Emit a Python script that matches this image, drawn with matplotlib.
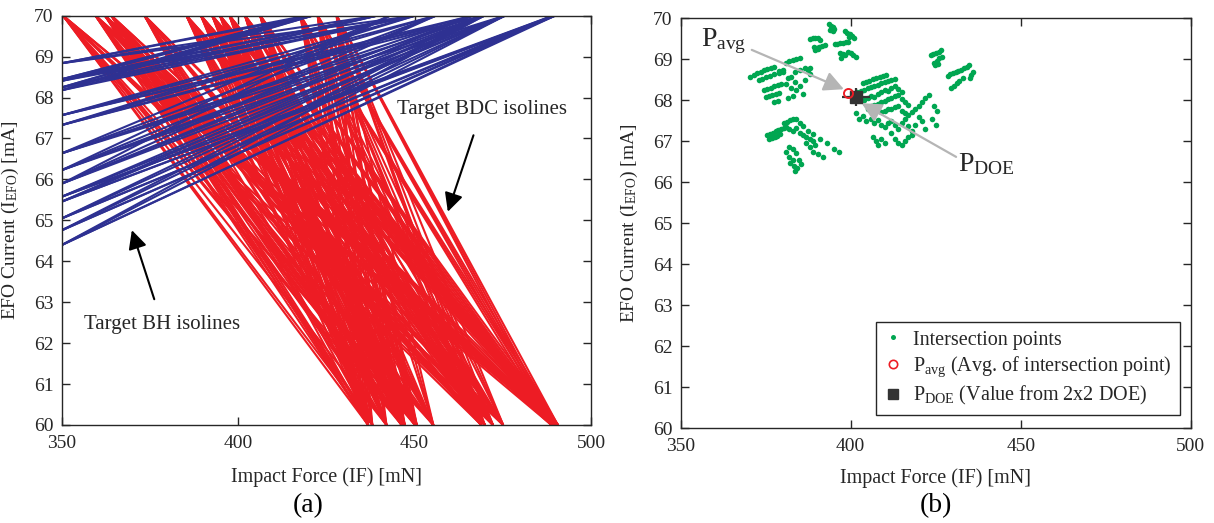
import matplotlib
matplotlib.use("Agg")
import matplotlib.pyplot as plt
from matplotlib.lines import Line2D

plt.rcParams['font.family'] = ['Liberation Serif', 'DejaVu Serif']
plt.rcParams['mathtext.fontset'] = 'custom'
plt.rcParams['mathtext.rm'] = 'Liberation Serif'
plt.rcParams['mathtext.it'] = 'Liberation Serif:italic'
plt.rcParams['mathtext.bf'] = 'Liberation Serif:bold'

# ---------------- data : panel (a) ----------------
# Target BDC isolines: IF [mN] where the lines meet EFO = 70 mA (top) and EFO = 60 mA (bottom)
bdc_if_top = [350.3, 359.5, 362.2, 364.0, 373.4, 385.3, 389.4, 392.6, 394.8, 397.5,
              401.9, 406.2, 417.6, 422.5, 427.9]
bdc_if_bottom = [436.8, 438.0, 442.0, 446.3, 447.2, 450.1, 450.6, 455.3, 468.9, 469.9,
                 472.2, 475.1, 488.8, 489.7, 490.6]

# Target BH isolines: EFO [mA] where each line meets IF = 350 mN (left) and IF [mN] at EFO = 70 mA (top)
bh_left_1 = [68.84, 68.45, 68.41, 68.25, 68.18]
bh_top_1 = [419.2, 421.0, 439.3, 450.1]
bh_left_2 = [67.57, 67.33]
bh_top_2 = [450.1, 456.0, 466.4, 469.7]
bh_left_3 = [66.64, 66.23, 65.90]
bh_top_3 = [443.0, 456.0, 466.4, 469.7, 475.6]
bh_left_4 = [65.58, 65.46, 65.05, 64.76, 64.40]
bh_top_4 = [469.7, 475.6, 489.2, 489.8]

# ---------------- data : panel (b) ----------------
ip_if = [393.5, 394.1, 394.7, 395.2, 394.0, 394.8,
         388.0, 388.8, 389.6, 390.4, 390.9, 389.2, 390.0, 390.8, 391.6, 392.3, 389.6, 390.4,
         398.2, 399.0, 399.8, 400.5, 400.9, 399.5, 395.3, 396.1, 396.9, 397.7, 398.5, 399.3,
         396.9, 397.6, 398.4, 399.2, 400.0, 400.8, 401.5, 397.2,
         370.5, 371.5, 372.5, 373.5, 374.5, 375.5, 376.5, 377.5,
         373.0, 374.0, 375.0, 376.2, 377.5, 378.8, 380.0,
         374.5, 375.5, 376.5, 377.5, 378.5, 379.5,
         375.0, 376.0, 377.0, 378.0, 379.0, 377.5, 378.5,
         381.0, 382.0, 383.0, 384.0, 385.0,
         379.0, 380.0, 381.5, 382.5, 383.5, 385.0, 386.5, 388.0,
         381.0, 382.5, 383.5, 384.0, 385.0, 386.0, 383.0, 381.5, 387.5, 388.0, 386.5,
         375.5, 376.3, 377.1, 377.9, 378.7, 379.5, 380.3, 381.1,
         376.0, 376.8, 377.6, 378.4, 379.3,
         380.5, 381.3, 382.1, 382.9,
         382.0, 383.0, 384.0, 385.0, 386.0, 387.0, 388.0, 389.0,
         384.0, 385.0, 386.0, 387.5, 389.0, 391.0, 393.0, 395.0, 396.5,
         381.0, 382.0, 383.0, 382.2, 383.2, 384.3, 383.5, 384.8, 385.5, 381.8, 383.0, 384.0,
         387.0, 388.0, 389.0, 390.5, 391.8, 389.5,
         403.5, 404.5, 405.5, 406.5, 407.5, 408.5, 409.5, 410.5,
         402.0, 403.0, 404.0, 405.0, 406.0, 407.0, 408.0, 409.0, 410.0, 411.0, 412.0, 413.0,
         404.0, 405.0, 406.0, 407.0, 408.0, 409.0, 410.0, 411.0, 412.0, 413.0, 414.0, 415.0,
         405.0, 406.0, 407.0, 408.0, 409.0, 410.0, 411.0, 412.0, 413.0, 414.0, 415.0, 416.0, 417.0,
         409.0, 410.0, 411.0, 412.0, 413.0, 414.0, 415.0, 416.0, 417.0, 418.0, 419.0, 420.0, 421.0,
         422.0, 423.0,
         401.5, 402.5, 403.5, 404.5, 406.0, 407.0, 408.0, 409.0, 410.0, 411.0, 412.0, 413.0, 414.0,
         415.0, 416.0, 417.0, 418.0, 419.0, 420.0, 421.0, 422.0, 424.0, 425.0, 425.5, 424.5,
         406.5, 407.5, 408.0, 409.0, 410.0, 412.0, 413.0, 414.0, 415.0, 416.0, 417.0, 418.0,
         423.5, 424.3, 425.1, 425.9, 426.7,
         424.5, 425.3, 426.0, 426.8, 424.8, 425.6,
         428.5, 429.3, 430.1, 430.9, 431.7, 432.5, 433.3, 434.1, 434.9,
         429.5, 430.3, 431.2, 432.0, 433.0, 435.5, 436.0, 435.2]
ip_efo = [69.85, 69.82, 69.78, 69.75, 69.72, 69.70,
          69.50, 69.51, 69.52, 69.53, 69.48, 69.30, 69.28, 69.30, 69.33, 69.36, 69.22, 69.24,
          69.68, 69.65, 69.62, 69.58, 69.52, 69.55, 69.38, 69.38, 69.39, 69.40, 69.41, 69.42,
          69.15, 69.12, 69.10, 69.18, 69.15, 69.10, 69.05, 69.03,
          68.58, 68.62, 68.66, 68.70, 68.73, 68.76, 68.79, 68.82,
          68.50, 68.53, 68.56, 68.60, 68.63, 68.66, 68.70,
          68.25, 68.28, 68.31, 68.34, 68.37, 68.40,
          68.07, 68.10, 68.13, 68.16, 68.19, 67.95, 67.98,
          68.92, 68.95, 68.98, 69.01, 69.03,
          68.72, 68.74, 68.55, 68.58, 68.70, 68.75, 68.80, 68.78,
          68.40, 68.30, 68.45, 68.25, 68.35, 68.15, 68.10, 68.05, 68.75, 68.65, 68.50,
          67.15, 67.18, 67.21, 67.24, 67.27, 67.30, 67.33, 67.36,
          67.05, 67.08, 67.11, 67.14, 67.17,
          67.45, 67.48, 67.51, 67.54,
          67.30, 67.25, 67.32, 67.20, 67.15, 67.10, 67.05, 67.00,
          67.55, 67.45, 67.38, 67.25, 67.18, 67.05, 66.95, 66.82, 66.75,
          66.75, 66.62, 66.55, 66.48, 66.40, 66.35, 66.28, 66.55, 66.45, 66.85, 66.80, 66.72,
          66.95, 66.85, 66.75, 66.70, 66.62, 66.90,
          68.42, 68.45, 68.48, 68.52, 68.55, 68.58, 68.60, 68.62,
          68.20, 68.23, 68.26, 68.29, 68.32, 68.35, 68.38, 68.41, 68.45, 68.48, 68.50, 68.53,
          68.00, 68.05, 68.10, 68.08, 68.15, 68.20, 68.25, 68.22, 68.30, 68.35, 68.28, 68.20,
          67.80, 67.85, 67.88, 67.92, 67.95, 67.98, 68.02, 68.05, 68.10, 68.12, 68.02, 67.95, 67.88,
          67.72, 67.75, 67.78, 67.80, 67.83, 67.86, 67.75, 67.70, 67.65, 67.72, 67.80, 67.85, 67.95,
          68.05, 68.12,
          67.70, 67.55, 67.62, 67.50, 67.55, 67.45, 67.52, 67.40, 67.35, 67.45, 67.50, 67.40, 67.30,
          67.45, 67.55, 67.38, 67.25, 67.40, 67.60, 67.50, 67.30, 67.55, 67.40, 67.75, 67.85,
          67.10, 67.00, 66.92, 67.05, 66.95, 67.20, 67.05, 66.95, 66.90, 67.00, 67.10, 67.15,
          69.10, 69.13, 69.16, 69.19, 69.22,
          68.92, 68.97, 69.02, 69.06, 68.85, 68.88,
          68.60, 68.63, 68.66, 68.69, 68.72, 68.75, 68.78, 68.82, 68.85,
          68.30, 68.36, 68.42, 68.48, 68.55, 68.62, 68.70, 68.55]
p_avg = (399.3, 68.17)
p_doe = (401.6, 68.07)
p_doe_err_if = 4.2
p_doe_err_efo = 0.22

RED = '#ED1C24'
BLUE = '#2E3192'
GREEN = '#00A651'
DARK = '#262626'

fig = plt.figure(figsize=(12.14, 5.23), dpi=100)
ax1 = fig.add_axes([0.0511, 0.1874, 0.4357, 0.7826])
ax2 = fig.add_axes([0.5607, 0.1811, 0.4201, 0.7839])

# ---- panel (a) ----
for t in bdc_if_top:
    for b in bdc_if_bottom:
        ax1.plot([t, b], [70, 60], color=RED, lw=1.5, zorder=2, solid_capstyle='butt')
for lefts, tops in ((bh_left_1, bh_top_1), (bh_left_2, bh_top_2),
                    (bh_left_3, bh_top_3), (bh_left_4, bh_top_4)):
    for l in lefts:
        for t in tops:
            ax1.plot([350, t], [l, 70], color=BLUE, lw=1.5, zorder=3, solid_capstyle='butt')

ax1.annotate('Target BDC isolines', xy=(459.4, 65.21), xytext=(469.1, 67.7),
             ha='center', va='center', fontsize=15, color=DARK,
             arrowprops=dict(arrowstyle='-|>', color='k', lw=1.5, mutation_scale=28,
                             shrinkA=10, shrinkB=0), zorder=10)
ax1.annotate('Target BH isolines', xy=(369.8, 64.76), xytext=(378.5, 62.45),
             ha='center', va='center', fontsize=15, color=DARK,
             arrowprops=dict(arrowstyle='-|>', color='k', lw=1.5, mutation_scale=28,
                             shrinkA=10, shrinkB=0), zorder=10)

# ---- panel (b) ----
ax2.plot(ip_if, ip_efo, 'o', color=GREEN, ms=4.0, mec='none', zorder=2)
ax2.errorbar([p_doe[0]], [p_doe[1]], xerr=[p_doe_err_if], yerr=[p_doe_err_efo], fmt='none',
             ecolor='#333333', elinewidth=1.6, capsize=0, zorder=4)
ax2.plot([p_avg[0]], [p_avg[1]], 'o', mfc='none', mec='#ED1C24', mew=1.4, ms=6.5, zorder=5)
ax2.plot([p_doe[0]], [p_doe[1]], 's', color='#333333', ms=8, zorder=4)

ax2.annotate('', xy=(398.0, 68.27), xytext=(370.9, 69.23),
             arrowprops=dict(arrowstyle='-|>', color='#B5B5B5', lw=1.6, mutation_scale=30,
                             shrinkA=0, shrinkB=0))
ax2.annotate('', xy=(403.2, 67.93), xytext=(431.0, 66.62),
             arrowprops=dict(arrowstyle='-|>', color='#B5B5B5', lw=1.6, mutation_scale=30,
                             shrinkA=0, shrinkB=0))
ax2.text(355.9, 69.45, r'P$_{\mathrm{avg}}$', fontsize=20, color=DARK, ha='left', va='center')
ax2.text(431.6, 66.45, r'P$_{\mathrm{DOE}}$', fontsize=20, color=DARK, ha='left', va='center')

h1 = Line2D([], [], ls='none', marker='o', color=GREEN, ms=3.6, mec='none')
h2 = Line2D([], [], ls='none', marker='o', mfc='none', mec='#ED1C24', mew=1.2, ms=6)
h3 = Line2D([], [], ls='none', marker='s', color='#333333', ms=6.5)
leg = ax2.legend([h1, h2, h3],
                 ['Intersection points',
                  r'P$_{\mathrm{avg}}$ (Avg. of intersection point)',
                  r'P$_{\mathrm{DOE}}$ (Value from 2x2 DOE)'],
                 loc='lower right', bbox_to_anchor=(0.979, 0.032), borderaxespad=0,
                 fontsize=14.5, frameon=True, fancybox=False, framealpha=1,
                 edgecolor=DARK, handlelength=0.9, handletextpad=0.55, labelspacing=0.25,
                 borderpad=0.4)
leg.get_frame().set_linewidth(1.0)
for t in leg.get_texts():
    t.set_color(DARK)

for ax in (ax1, ax2):
    ax.set_xlim(350, 500)
    ax.set_ylim(60, 70)
    ax.set_xticks([350, 400, 450, 500])
    ax.set_yticks(range(60, 71))
    ax.tick_params(direction='in', length=6, width=1, top=True, right=True,
                   labelsize=14, colors=DARK)
    ax.tick_params(axis='x', pad=7)
    ax.tick_params(axis='y', pad=6)
    for s in ax.spines.values():
        s.set_color(DARK)
        s.set_linewidth(1.0)
        s.set_zorder(20)
    ax.set_xlabel('Impact Force (IF) [mN]', fontsize=14.5, color=DARK)
    ax.set_ylabel(r'EFO Current (I$_{\mathrm{EFO}}$) [mA]', fontsize=14, color=DARK)

ax1.xaxis.set_label_coords(0.5, -0.103)
ax1.yaxis.set_label_coords(-0.077, 0.5)
ax2.xaxis.set_label_coords(0.5, -0.097)
ax2.yaxis.set_label_coords(-0.080, 0.5)

fig.text(308 / 1214, 1 - 506 / 523, '(a)', fontsize=20, ha='center', va='center', color='k')
fig.text(936 / 1214, 1 - 506 / 523, '(b)', fontsize=20, ha='center', va='center', color='k')

fig.savefig('out.png', dpi=100)
